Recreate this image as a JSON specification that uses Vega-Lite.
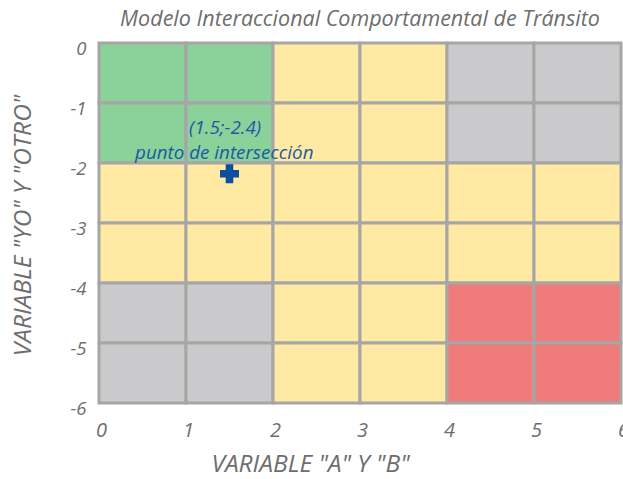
{
  "$schema": "https://vega.github.io/schema/vega-lite/v6.json",
  "width": 522,
  "height": 360,
  "autosize": {"type": "none"},
  "padding": {"left": 99, "top": 43, "right": 2, "bottom": 76},
  "background": "white",
  "config": {"view": {"stroke": null}, "font": "Open Sans"},
  "title": {
    "text": "Modelo Interaccional Comportamental de Tránsito",
    "fontSize": 21.5,
    "fontStyle": "italic",
    "fontWeight": "normal",
    "color": "#6e6e6e",
    "anchor": "middle",
    "offset": 9
  },
  "layer": [
    {
      "data": {
        "values": [
          {"x": 0, "x2": 1, "y": 0, "y2": -1, "c": "verde"},
          {"x": 1, "x2": 2, "y": 0, "y2": -1, "c": "verde"},
          {"x": 2, "x2": 3, "y": 0, "y2": -1, "c": "amarillo"},
          {"x": 3, "x2": 4, "y": 0, "y2": -1, "c": "amarillo"},
          {"x": 4, "x2": 5, "y": 0, "y2": -1, "c": "gris"},
          {"x": 5, "x2": 6, "y": 0, "y2": -1, "c": "gris"},
          {"x": 0, "x2": 1, "y": -1, "y2": -2, "c": "verde"},
          {"x": 1, "x2": 2, "y": -1, "y2": -2, "c": "verde"},
          {"x": 2, "x2": 3, "y": -1, "y2": -2, "c": "amarillo"},
          {"x": 3, "x2": 4, "y": -1, "y2": -2, "c": "amarillo"},
          {"x": 4, "x2": 5, "y": -1, "y2": -2, "c": "gris"},
          {"x": 5, "x2": 6, "y": -1, "y2": -2, "c": "gris"},
          {"x": 0, "x2": 1, "y": -2, "y2": -3, "c": "amarillo"},
          {"x": 1, "x2": 2, "y": -2, "y2": -3, "c": "amarillo"},
          {"x": 2, "x2": 3, "y": -2, "y2": -3, "c": "amarillo"},
          {"x": 3, "x2": 4, "y": -2, "y2": -3, "c": "amarillo"},
          {"x": 4, "x2": 5, "y": -2, "y2": -3, "c": "amarillo"},
          {"x": 5, "x2": 6, "y": -2, "y2": -3, "c": "amarillo"},
          {"x": 0, "x2": 1, "y": -3, "y2": -4, "c": "amarillo"},
          {"x": 1, "x2": 2, "y": -3, "y2": -4, "c": "amarillo"},
          {"x": 2, "x2": 3, "y": -3, "y2": -4, "c": "amarillo"},
          {"x": 3, "x2": 4, "y": -3, "y2": -4, "c": "amarillo"},
          {"x": 4, "x2": 5, "y": -3, "y2": -4, "c": "amarillo"},
          {"x": 5, "x2": 6, "y": -3, "y2": -4, "c": "amarillo"},
          {"x": 0, "x2": 1, "y": -4, "y2": -5, "c": "gris"},
          {"x": 1, "x2": 2, "y": -4, "y2": -5, "c": "gris"},
          {"x": 2, "x2": 3, "y": -4, "y2": -5, "c": "amarillo"},
          {"x": 3, "x2": 4, "y": -4, "y2": -5, "c": "amarillo"},
          {"x": 4, "x2": 5, "y": -4, "y2": -5, "c": "rojo"},
          {"x": 5, "x2": 6, "y": -4, "y2": -5, "c": "rojo"},
          {"x": 0, "x2": 1, "y": -5, "y2": -6, "c": "gris"},
          {"x": 1, "x2": 2, "y": -5, "y2": -6, "c": "gris"},
          {"x": 2, "x2": 3, "y": -5, "y2": -6, "c": "amarillo"},
          {"x": 3, "x2": 4, "y": -5, "y2": -6, "c": "amarillo"},
          {"x": 4, "x2": 5, "y": -5, "y2": -6, "c": "rojo"},
          {"x": 5, "x2": 6, "y": -5, "y2": -6, "c": "rojo"}
        ]
      },
      "mark": {"type": "rect", "stroke": "#a6a6a6", "strokeWidth": 3},
      "encoding": {
        "x": {
          "field": "x",
          "type": "quantitative",
          "scale": {"domain": [0, 6], "nice": false, "zero": false},
          "axis": {
            "values": [0, 1, 2, 3, 4, 5, 6],
            "labelExpr": "toString(datum.value)",
            "domain": false,
            "ticks": false,
            "grid": false,
            "labelFontSize": 20,
            "labelFontStyle": "italic",
            "labelColor": "#6e6e6e",
            "labelPadding": 17,
            "labelFlush": false,
            "labelOverlap": false,
            "labelOffset": 2,
            "title": "VARIABLE \"A\" Y \"B\"",
            "titleFontSize": 24.5,
            "titleFontStyle": "italic",
            "titleFontWeight": "normal",
            "titleColor": "#6e6e6e",
            "titleX": 211,
            "titleY": 61,
            "titleAlign": "center",
            "titleBaseline": "middle"
          }
        },
        "x2": {"field": "x2"},
        "y": {
          "field": "y",
          "type": "quantitative",
          "scale": {"domain": [-6, 0], "nice": false, "zero": false},
          "axis": {
            "values": [0, -1, -2, -3, -4, -5, -6],
            "labelExpr": "toString(datum.value)",
            "domain": false,
            "ticks": false,
            "grid": false,
            "labelFontSize": 18.5,
            "labelFontStyle": "italic",
            "labelColor": "#6e6e6e",
            "labelPadding": 13,
            "labelFlush": false,
            "labelOverlap": false,
            "labelOffset": 5,
            "title": "VARIABLE \"YO\" Y \"OTRO\"",
            "titleFontSize": 24.5,
            "titleFontStyle": "italic",
            "titleFontWeight": "normal",
            "titleColor": "#6e6e6e",
            "titleAngle": 270,
            "titleX": -76,
            "titleY": 182,
            "titleAlign": "center",
            "titleBaseline": "middle"
          }
        },
        "y2": {"field": "y2"},
        "color": {
          "field": "c",
          "type": "nominal",
          "scale": {
            "domain": ["verde", "amarillo", "gris", "rojo"],
            "range": ["#8ad19a", "#ffe9a3", "#cacacc", "#ef7b7b"]
          },
          "legend": null
        }
      }
    },
    {
      "data": {"values": [{"x": 1.5, "y": -2.18}]},
      "mark": {"type": "point", "shape": "cross", "size": 360, "filled": true, "color": "#0b4f9e", "opacity": 1},
      "encoding": {
        "x": {"field": "x", "type": "quantitative"},
        "y": {"field": "y", "type": "quantitative"}
      }
    },
    {
      "data": {
        "values": [
          {"x": 1.45, "y": -1.42, "t": "(1.5;-2.4)"},
          {"x": 1.44, "y": -1.83, "t": "punto de intersección"}
        ]
      },
      "mark": {"type": "text", "fontSize": 18.8, "fontStyle": "italic", "color": "#1a5aa6", "align": "center", "baseline": "middle"},
      "encoding": {
        "x": {"field": "x", "type": "quantitative"},
        "y": {"field": "y", "type": "quantitative"},
        "text": {"field": "t"}
      }
    }
  ]
}
